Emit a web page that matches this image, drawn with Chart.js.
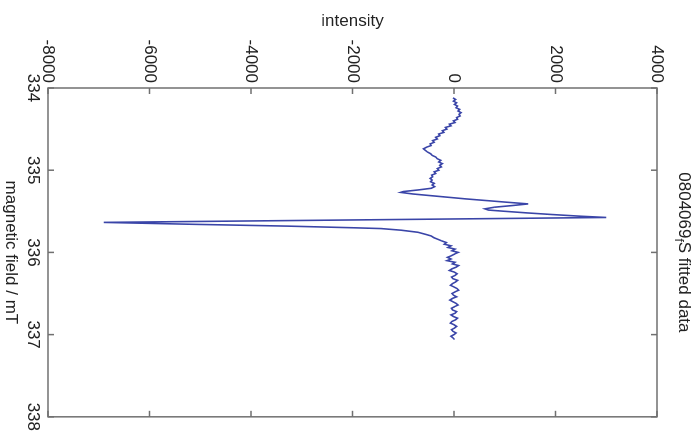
<!DOCTYPE html>
<html>
<head>
<meta charset="utf-8">
<title>080406 fitted data</title>
<script src="https://cdn.jsdelivr.net/npm/chart.js@4.4.1/dist/chart.umd.min.js"></script>
<style>
    html, body { margin: 0; padding: 0; background: #fff; overflow: hidden; }
    #wrap { position: relative; width: 695px; height: 436px; overflow: hidden; }
    /* the plot is drawn upright and then turned a quarter clockwise */
    #spectrum { position: absolute; left: 0; top: 0; transform-origin: 0 0; transform: translate(695px, 0) rotate(90deg); }
</style>
</head>
<body>
<div id="wrap"><canvas id="spectrum" width="436" height="695"></canvas></div>
<script>
// magnetic field (mT) and fitted intensity
const field = [
    334.12, 334.14, 334.16, 334.18, 334.20, 334.22, 334.24, 334.26, 334.28, 334.30,
    334.32, 334.34, 334.36, 334.38, 334.40, 334.42, 334.44, 334.46, 334.48, 334.50,
    334.52, 334.54, 334.56, 334.58, 334.60, 334.62, 334.64, 334.66, 334.68, 334.70,
    334.72, 334.74, 334.76, 334.78, 334.80, 334.82, 334.84, 334.86, 334.88, 334.90,
    334.92, 334.94, 334.96, 334.98, 335.00, 335.02, 335.04, 335.06, 335.08, 335.10,
    335.12, 335.14, 335.16, 335.18, 335.20, 335.22, 335.24, 335.26, 335.27, 335.29,
    335.31, 335.33, 335.35, 335.37, 335.39, 335.41, 335.43, 335.45, 335.47, 335.485,
    335.50, 335.52, 335.54, 335.56, 335.575, 335.635, 335.66, 335.68, 335.70, 335.71,
    335.73, 335.755, 335.78, 335.80, 335.82, 335.84, 335.86, 335.88, 335.90, 335.92,
    335.94, 335.96, 335.98, 336.00, 336.02, 336.04, 336.06, 336.08, 336.10, 336.12,
    336.14, 336.16, 336.18, 336.20, 336.22, 336.24, 336.26, 336.28, 336.30, 336.32,
    336.34, 336.36, 336.38, 336.40, 336.42, 336.44, 336.46, 336.48, 336.50, 336.52,
    336.54, 336.56, 336.58, 336.60, 336.62, 336.64, 336.66, 336.68, 336.70, 336.72,
    336.74, 336.76, 336.78, 336.80, 336.82, 336.84, 336.86, 336.88, 336.90, 336.92,
    336.94, 336.96, 336.98, 337.00, 337.02, 337.04, 337.06
];
const intensity = [
    -20, 30, -10, 50, 10, 70, 40, 110, 80, 140,
    100, 120, 50, 70, -10, 20, -90, -60, -170, -140,
    -230, -200, -300, -280, -360, -330, -420, -390, -470, -450,
    -540, -600, -560, -520, -460, -430, -360, -330, -260, -300,
    -230, -280, -250, -330, -300, -390, -360, -440, -420, -470,
    -430, -460, -390, -430, -380, -450, -700, -1000, -1050, -800,
    -450, -100, 250, 650, 1050, 1460, 1150, 800, 610, 680,
    1000, 1450, 1950, 2500, 3000, -6900, -5000, -3300, -2000, -1440,
    -1040, -710, -560, -450, -400, -320, -240, -150, -190, -60,
    -120, 20, -40, 80, 10, -50, -130, -60, -140, 20,
    -30, 90, 40, -40, -90, 10, 60, 20, -50, -20,
    70, 30, -30, -70, 0, 60, 90, 20, -40, -10,
    50, -30, -80, -20, 40, 80, 10, -50, -30, 50,
    20, -60, -10, 70, 30, -40, -70, 0, 50, 10,
    -50, -20, 40, 0, -60, -20, 10
];

const fieldTicks = [334, 335, 336, 337, 338];
const intensityTicks = [-8000, -6000, -4000, -2000, 0, 2000, 4000];

const titleMain = '0804069';
const titleSub = 'f';
const titleRest = 'S fitted data';

const FONT = '"Liberation Sans", Arial, Helvetica, sans-serif';
const TICK = 6;

// box round the axes with inward tick marks on all four sides, plus the title
const matlabFrame = {
    id: 'matlabFrame',
    afterDatasetsDraw(chart) {
        const { ctx, chartArea: a, scales } = chart;
        ctx.save();
        ctx.strokeStyle = '#707070';
        ctx.lineWidth = 1.5;
        ctx.strokeRect(a.left, a.top, a.right - a.left, a.bottom - a.top);
        ctx.beginPath();
        scales.x.ticks.forEach(t => {
            const px = scales.x.getPixelForValue(t.value);
            ctx.moveTo(px, a.bottom);
            ctx.lineTo(px, a.bottom - TICK);
            ctx.moveTo(px, a.top);
            ctx.lineTo(px, a.top + TICK);
        });
        scales.y.ticks.forEach(t => {
            const py = scales.y.getPixelForValue(t.value);
            ctx.moveTo(a.left, py);
            ctx.lineTo(a.left + TICK, py);
            ctx.moveTo(a.right, py);
            ctx.lineTo(a.right - TICK, py);
        });
        ctx.stroke();

        // title, with the "f" set as a subscript
        ctx.fillStyle = '#222';
        ctx.textBaseline = 'alphabetic';
        ctx.textAlign = 'left';
        const big = '17px ' + FONT;
        const small = '12px ' + FONT;
        ctx.font = big;
        const w1 = ctx.measureText(titleMain).width;
        const w3 = ctx.measureText(titleRest).width;
        ctx.font = small;
        const w2 = ctx.measureText(titleSub).width;
        let x = (a.left + a.right) / 2 - (w1 + w2 + w3) / 2;
        const base = 16;
        ctx.font = big;
        ctx.fillText(titleMain, x, base);
        x += w1;
        ctx.font = small;
        ctx.fillText(titleSub, x, base + 4);
        x += w2;
        ctx.font = big;
        ctx.fillText(titleRest, x, base);
        ctx.restore();
    }
};

const plainTick = value => String(value);

const spectrumCtx = document.getElementById('spectrum').getContext('2d');
new Chart(spectrumCtx, {
    type: 'line',
    data: {
        datasets: [{
            data: field.map((b, i) => ({ x: b, y: intensity[i] })),
            borderColor: '#3a45a8',
            borderWidth: 1.6,
            pointRadius: 0,
            tension: 0,
            fill: false
        }]
    },
    options: {
        responsive: false,
        animation: false,
        devicePixelRatio: 1,
        layout: {
            padding: { left: 0, top: 38, right: 18, bottom: 0 }
        },
        plugins: {
            legend: { display: false },
            tooltip: { enabled: false }
        },
        scales: {
            x: {
                type: 'linear',
                min: 334,
                max: 338,
                afterBuildTicks: scale => { scale.ticks = fieldTicks.map(v => ({ value: v })); },
                afterFit: scale => { scale.height = 48; },
                grid: { display: false, drawTicks: false },
                border: { display: false },
                ticks: {
                    padding: 5,
                    color: '#222',
                    callback: plainTick,
                    font: { family: FONT, size: 17 }
                },
                title: {
                    display: true,
                    text: 'magnetic field / mT',
                    color: '#222',
                    padding: { top: 0, bottom: 0 },
                    font: { family: FONT, size: 17 }
                }
            },
            y: {
                type: 'linear',
                min: -8000,
                max: 4000,
                afterBuildTicks: scale => { scale.ticks = intensityTicks.map(v => ({ value: v })); },
                afterFit: scale => { scale.width = 88; },
                grid: { display: false, drawTicks: false },
                border: { display: false },
                ticks: {
                    padding: 5,
                    color: '#222',
                    callback: plainTick,
                    font: { family: FONT, size: 17 }
                },
                title: {
                    display: true,
                    text: 'intensity',
                    color: '#222',
                    padding: { top: 11, bottom: 0 },
                    font: { family: FONT, size: 17 }
                }
            }
        }
    },
    plugins: [matlabFrame]
});
</script>
</body>
</html>
